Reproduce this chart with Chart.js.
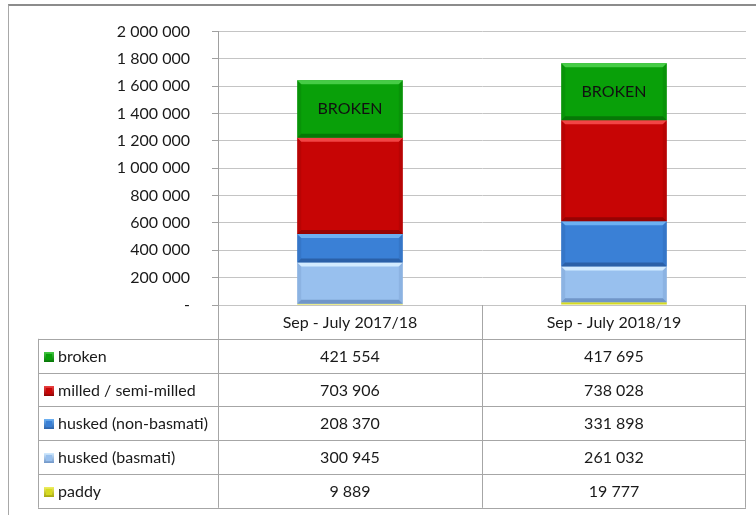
<!DOCTYPE html>
<html>
<head>
<meta charset="utf-8">
<script src="https://cdn.jsdelivr.net/npm/chart.js@4/dist/chart.umd.min.js"></script>
<style>
  html, body { margin: 0; padding: 0; background: #fff; }
  #wrap { position: relative; width: 756px; height: 515px; overflow: hidden; }
  #frame { position: absolute; left: 8px; top: 4px; width: 760px; height: 520px;
           border-top: 2px solid #8c8c8c; border-left: 1px solid #a8a8a8; pointer-events: none; }
  canvas { position: absolute; left: 0; top: 0; }
</style>
</head>
<body>
<div id="wrap">
  <canvas id="chart" width="756" height="515"></canvas>
  <div id="frame"></div>
</div>
<script>
// donnees
const categories = ['Sep - July 2017/18', 'Sep - July 2018/19'];
const paddy = [9889, 19777];
const huskedBasmati = [300945, 261032];
const huskedNonBasmati = [208370, 331898];
const milled = [703906, 738028];
const broken = [421554, 417695];

const seriesNames = ['paddy', 'husked (basmati)', 'husked (non-basmati)', 'milled / semi-milled', 'broken'];
const seriesData = [paddy, huskedBasmati, huskedNonBasmati, milled, broken];
const seriesColors = ['#d6da22', '#98c0ee', '#3a80d6', '#c70505', '#09a009'];
const seriesLight = ['#f0f060', '#d2ebff', '#6cb0f2', '#f24545', '#46cc46'];
const seriesDark = ['#a8aa10', '#7096c8', '#2a60a8', '#960303', '#067806'];

const FONT = 'Lato, "Liberation Sans", sans-serif';

function fmt(n) {
    return String(n).replace(/\B(?=(\d{3})+(?!\d))/g, ' ');
}

// effet biseau sur les barres + texte BROKEN
const bevelPlugin = {
    id: 'bevel',
    afterDatasetsDraw(chart) {
        const ctx = chart.ctx;
        chart.data.datasets.forEach((ds, di) => {
            const meta = chart.getDatasetMeta(di);
            meta.data.forEach(el => {
                const p = el.getProps(['x', 'y', 'base', 'width'], true);
                const l = p.x - p.width / 2, r = p.x + p.width / 2;
                const t = Math.min(p.y, p.base), b = Math.max(p.y, p.base);
                const h = b - t;
                if (h < 8) return;
                const e = 4;
                ctx.save();
                ctx.fillStyle = seriesLight[di];
                ctx.beginPath();
                ctx.moveTo(l, t); ctx.lineTo(r, t); ctx.lineTo(r - e, t + e); ctx.lineTo(l + e, t + e);
                ctx.closePath(); ctx.fill();
                ctx.fillStyle = seriesDark[di];
                ctx.beginPath();
                ctx.moveTo(l, b); ctx.lineTo(r, b); ctx.lineTo(r - e, b - e); ctx.lineTo(l + e, b - e);
                ctx.closePath(); ctx.fill();
                ctx.globalAlpha = 0.3;
                ctx.beginPath();
                ctx.moveTo(l, t); ctx.lineTo(l + e, t + e); ctx.lineTo(l + e, b - e); ctx.lineTo(l, b);
                ctx.closePath(); ctx.fill();
                ctx.beginPath();
                ctx.moveTo(r, t); ctx.lineTo(r - e, t + e); ctx.lineTo(r - e, b - e); ctx.lineTo(r, b);
                ctx.closePath(); ctx.fill();
                ctx.restore();
                if (ds.label === 'broken') {
                    ctx.save();
                    ctx.fillStyle = '#111';
                    ctx.font = '16px ' + FONT;
                    ctx.textAlign = 'center';
                    ctx.textBaseline = 'middle';
                    ctx.fillText('BROKEN', p.x, (t + b) / 2);
                    ctx.restore();
                }
            });
        });
    }
};

// tableau de donnees sous le graphe
const tablePlugin = {
    id: 'dataTable',
    afterDraw(chart) {
        const ctx = chart.ctx;
        const ca = chart.chartArea;
        const n = categories.length;
        const step = (ca.right - ca.left) / n;
        const top = ca.bottom;
        const rowH = 33.8;
        const labLeft = 38;
        const rows = seriesNames.length;
        const bottom = top + rowH * (rows + 1);
        ctx.save();
        ctx.strokeStyle = '#a6a6a6';
        ctx.lineWidth = 1;
        ctx.beginPath();
        for (let i = 0; i <= n; i++) {
            const x = Math.round(ca.left + step * i) - (i === n ? 1 : 0) + 0.5;
            ctx.moveTo(x, top); ctx.lineTo(x, bottom);
        }
        ctx.moveTo(labLeft + 0.5, top + rowH); ctx.lineTo(labLeft + 0.5, bottom);
        for (let r = 1; r <= rows + 1; r++) {
            const y = Math.round(top + rowH * r) + 0.5;
            ctx.moveTo(labLeft, y); ctx.lineTo(ca.right, y);
        }
        ctx.stroke();

        ctx.fillStyle = '#1a1a1a';
        ctx.font = '16px ' + FONT;
        ctx.textBaseline = 'middle';
        ctx.textAlign = 'center';
        categories.forEach((c, i) => {
            ctx.fillText(c, ca.left + step * (i + 0.5), top + rowH / 2 + 1);
        });
        for (let r = 0; r < rows; r++) {
            const si = rows - 1 - r;
            const yc = top + rowH * (r + 1.5) + 1;
            // carre de legende
            const g = ctx.createLinearGradient(0, yc - 5, 0, yc + 5);
            g.addColorStop(0, seriesLight[si]);
            g.addColorStop(1, seriesDark[si]);
            ctx.fillStyle = g;
            ctx.fillRect(44, Math.round(yc - 5), 10, 10);
            ctx.fillStyle = seriesColors[si];
            ctx.fillRect(46, Math.round(yc - 3), 6, 6);
            ctx.fillStyle = '#1a1a1a';
            ctx.textAlign = 'left';
            ctx.fillText(seriesNames[si], 58, yc);
            ctx.textAlign = 'center';
            seriesData[si].forEach((v, i) => {
                ctx.fillText(fmt(v), ca.left + step * (i + 0.5), yc);
            });
        }
        ctx.restore();
    }
};

const ctx = document.getElementById('chart').getContext('2d');
new Chart(ctx, {
    type: 'bar',
    data: {
        labels: categories,
        datasets: seriesNames.map((name, i) => ({
            label: name,
            data: seriesData[i],
            backgroundColor: seriesColors[i],
            borderWidth: 0,
            categoryPercentage: 1,
            barPercentage: 0.4
        }))
    },
    options: {
        responsive: false,
        animation: false,
        devicePixelRatio: 1,
        layout: { padding: { left: 0, right: 10, top: 31, bottom: 210 } },
        plugins: { legend: { display: false }, tooltip: { enabled: false } },
        scales: {
            x: { stacked: true, display: false },
            y: {
                stacked: true,
                min: 0,
                max: 2000000,
                afterFit: (scale) => { scale.width = 218; },
                ticks: {
                    stepSize: 200000,
                    padding: 22,
                    color: '#1a1a1a',
                    font: { family: FONT, size: 16 },
                    callback: (v) => v === 0 ? '-' : fmt(v)
                },
                grid: { color: '#c4c4c4', tickLength: 6, tickColor: '#a0a0a0' },
                border: { color: '#a0a0a0' }
            }
        }
    },
    plugins: [bevelPlugin, tablePlugin]
});
</script>
</body>
</html>
